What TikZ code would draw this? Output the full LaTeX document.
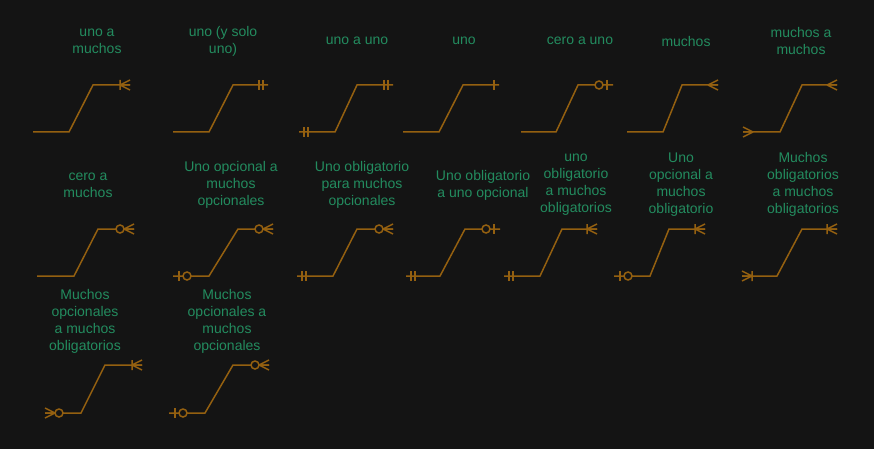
\documentclass[tikz,border=0pt]{standalone}
\usepackage{fontspec}
\setmainfont{Liberation Sans}
\definecolor{bg}{RGB}{20,20,20}
\definecolor{lc}{RGB}{148,96,16}
\definecolor{tc}{RGB}{35,140,95}
\tikzset{
  rel/.style={draw=lc, line width=1.5pt},
  mk/.style={draw=lc, line width=1.5pt},
  lbl/.style={text=tc, font=\fontsize{14}{17}\selectfont, align=center, inner sep=0pt},
  pics/mone/.style={code={\draw[mk] (-5,-5)--(-5,5);}},
  pics/mandone/.style={code={\draw[mk] (-5,-5)--(-5,5) (-9,-5)--(-9,5);}},
  pics/many/.style={code={\draw[mk] (-10,0)--(0,5) (-10,0)--(0,0) (-10,0)--(0,-5);}},
  pics/mandmany/.style={code={\draw[mk] (-10,0)--(0,5) (-10,0)--(0,0) (-10,0)--(0,-5) (-10,-5)--(-10,5);}},
  pics/zeroone/.style={code={\draw[mk] (-6,-5)--(-6,5); \draw[mk, fill=bg] (-14,0) circle[radius=4pt];}},
  pics/zeromany/.style={code={\draw[mk] (-10,0)--(0,5) (-10,0)--(0,0) (-10,0)--(0,-5); \draw[mk, fill=bg] (-14,0) circle[radius=4pt];}},
}
\begin{document}
\begin{tikzpicture}[x=1pt,y=-1pt]
\fill[bg] (0,0) rectangle (874,449);
\useasboundingbox (0,0) rectangle (874,449);
% coordinates: s = start, b = bend, t = top, e = end
\foreach \n/\sx/\bx/\tx/\ex/\yb/\yt in {
  1/33/69/93/130/132/85, 2/173/209/233/268/132/85, 3/299/335/357/393/132/85,
  4/403/439/463/499/132/85, 5/521/556/578/613/132/85, 6/627/663/682/718/132/85,
  7/743/780/802/837/132/85,
  8/37/74/98/134/276/229, 9/173/209/238/273/276/229, 10/297/333/357/393/276/229,
  11/406/440/465/500/276/229, 12/504/540/562/597/276/229, 13/614/650/669/705/276/229,
  14/742/777/802/837/276/229,
  15/45/81/105/142/413/365, 16/169/205/233/269/413/365}{
  \coordinate (s\n) at (\sx,\yb);
  \coordinate (b\n) at (\bx,\yb);
  \coordinate (t\n) at (\tx,\yt);
  \coordinate (e\n) at (\ex,\yt);
}
\foreach \n in {1,...,16}{\draw[rel] (s\n) -- (b\n) -- (t\n) -- (e\n);}
% end markers
\pic at (e1) {mandmany};
\pic at (e2) {mandone};
\pic at (e3) {mandone};   \pic[rotate=180] at (s3) {mandone};
\pic at (e4) {mone};
\pic at (e5) {zeroone};
\pic at (e6) {many};
\pic at (e7) {many};      \pic[rotate=180] at (s7) {many};
\pic at (e8) {zeromany};
\pic at (e9) {zeromany};  \pic[rotate=180] at (s9) {zeroone};
\pic at (e10) {zeromany}; \pic[rotate=180] at (s10) {mandone};
\pic at (e11) {zeroone};  \pic[rotate=180] at (s11) {mandone};
\pic at (e12) {mandmany}; \pic[rotate=180] at (s12) {mandone};
\pic at (e13) {mandmany}; \pic[rotate=180] at (s13) {zeroone};
\pic at (e14) {mandmany}; \pic[rotate=180] at (s14) {mandmany};
\pic at (e15) {mandmany}; \pic[rotate=180] at (s15) {zeromany};
\pic at (e16) {zeromany}; \pic[rotate=180] at (s16) {zeroone};
% labels
\node[lbl] (l1) at (97,41) {uno a\\muchos};
\node[lbl] (l2) at (223,41) {uno (y solo\\uno)};
\node[lbl] (l3) at (357,41) {uno a uno};
\node[lbl] (l4) at (464,41) {uno};
\node[lbl] (l5) at (580,41) {cero a uno};
\node[lbl] (l6) at (686,41) {muchos};
\node[lbl] (l7) at (801,41) {muchos a\\muchos};
\node[lbl] (l8) at (88,185) {cero a\\muchos};
\node[lbl] (l9) at (231,184.5) {Uno opcional a\\muchos\\opcionales};
\node[lbl] (l10) at (362,184.5) {Uno obligatorio\\para muchos\\opcionales};
\node[lbl] (l11) at (483,185) {Uno obligatorio\\a uno opcional};
\node[lbl] (l12) at (576,184.5) {uno\\obligatorio\\a muchos\\obligatorios};
\node[lbl] (l13) at (681,184.5) {Uno\\opcional a\\muchos\\obligatorio};
\node[lbl] (l14) at (803,184.5) {Muchos\\obligatorios\\a muchos\\obligatorios};
\node[lbl] (l15) at (85,321.5) {Muchos\\opcionales\\a muchos\\obligatorios};
\node[lbl] (l16) at (227,321.5) {Muchos\\opcionales a\\muchos\\opcionales};
\end{tikzpicture}
\end{document}
